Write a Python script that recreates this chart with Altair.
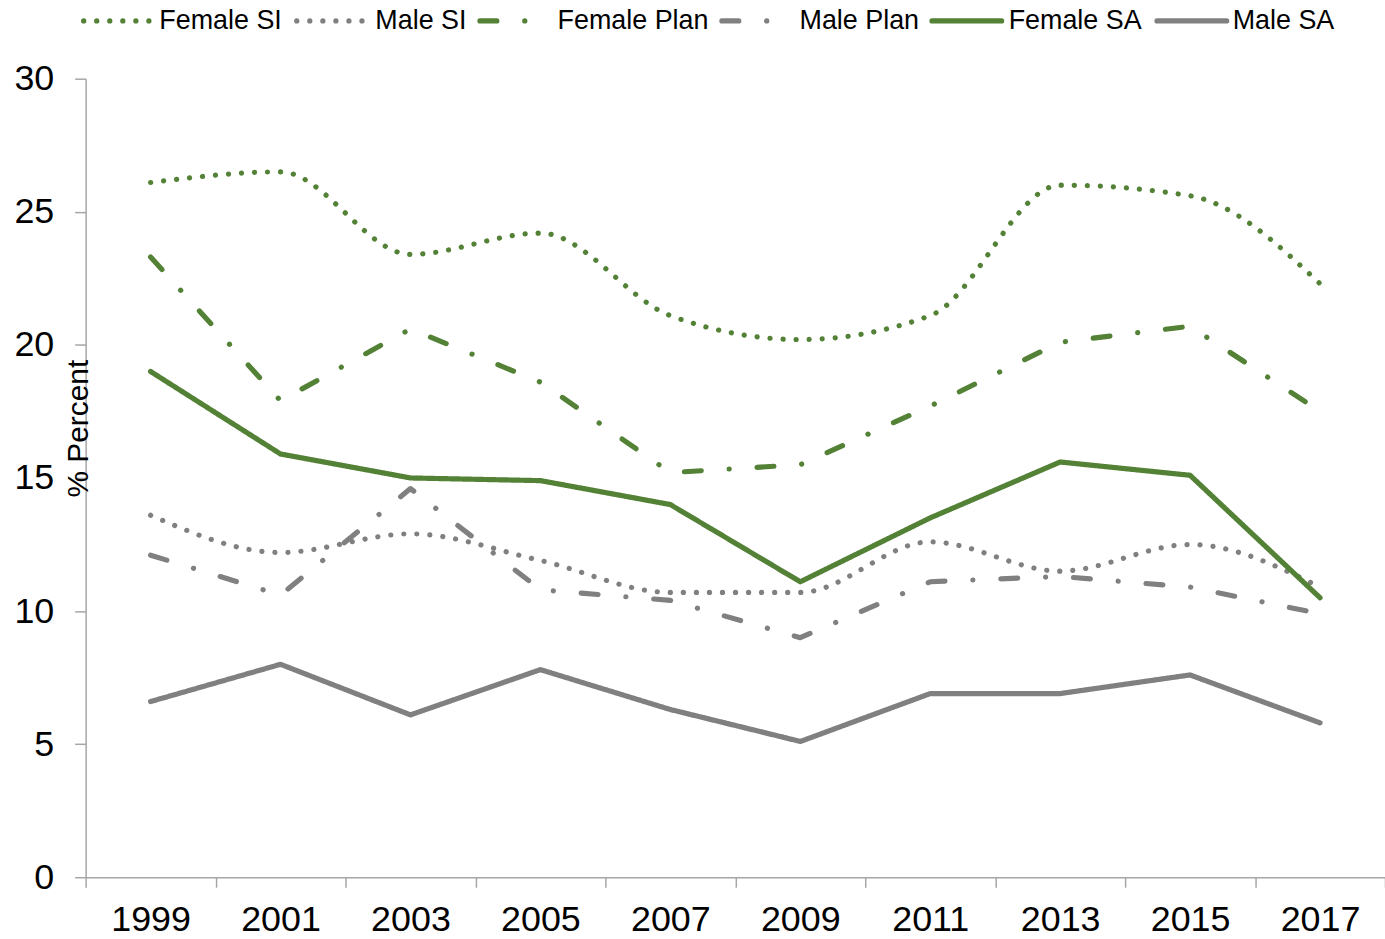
import altair as alt
import pandas as pd

# Survey years and the six series (percent of students)
years = ["1999", "2001", "2003", "2005", "2007", "2009", "2011", "2013", "2015", "2017"]
female_si = [26.1, 26.5, 23.4, 24.2, 21.1, 20.2, 21.1, 26.0, 25.6, 22.3]
male_si = [13.6, 12.2, 12.9, 11.9, 10.7, 10.7, 12.6, 11.5, 12.5, 10.9]
female_plan = [23.3, 17.9, 20.6, 18.6, 15.2, 15.5, 17.7, 20.1, 20.7, 17.5]
male_plan = [12.1, 10.6, 14.6, 10.8, 10.4, 9.0, 11.1, 11.3, 10.9, 9.9]
female_sa = [19.0, 15.9, 15.0, 14.9, 14.0, 11.1, 13.5, 15.6, 15.1, 10.5]
male_sa = [6.6, 8.0, 6.1, 7.8, 6.3, 5.1, 6.9, 6.9, 7.6, 5.8]

series_names = ["Female SI", "Male SI", "Female Plan", "Male Plan", "Female SA", "Male SA"]
series_values = [female_si, male_si, female_plan, male_plan, female_sa, male_sa]

GREEN = "#538135"
GRAY = "#808080"
AXIS_GRAY = "#a6a6a6"
series_colors = [GREEN, GRAY, GREEN, GRAY, GREEN, GRAY]
DOT = [0.1, 13]
DASH_DOT = [17, 28, 0.1, 28]
SOLID = [1, 0]
series_dashes = [DOT, DOT, DASH_DOT, DASH_DOT, SOLID, SOLID]
series_widths = [5.2, 5.2, 4.5, 4.5, 4.5, 4.5]

# Legend layout along the top row (pixels from the plot's left edge):
# where each key line starts and where its label starts
legend_key_start = [-2, 212, 396, 639, 850, 1076]
legend_label_start = [74, 291, 474, 717, 927, 1152]
LEGEND_KEY_LEN = 70
LEGEND_ROW_Y = -58

FONT = "Liberation Sans"

rows = []
for name, vals in zip(series_names, series_values):
    for yr, v in zip(years, vals):
        rows.append({"year": yr, "series": name, "value": v})
df = pd.DataFrame(rows)

legend_df = pd.DataFrame({
    "series": series_names,
    "kx": legend_key_start,
    "kx2": [k + LEGEND_KEY_LEN for k in legend_key_start],
    "lx": legend_label_start,
    "ly": [LEGEND_ROW_Y] * len(series_names),
})

color_scale = alt.Scale(domain=series_names, range=series_colors)
dash_scale = alt.Scale(domain=series_names, range=series_dashes)
width_scale = alt.Scale(domain=series_names, range=series_widths)

x_enc = alt.X(
    "year:O",
    sort=years,
    scale=alt.Scale(type="band", paddingInner=0, paddingOuter=0),
    axis=alt.Axis(
        title=None,
        labelAngle=0,
        tickBand="extent",
        labelFontSize=36,
        labelColor="black",
        labelFont=FONT,
        labelPadding=16,
        tickSize=10,
        tickColor=AXIS_GRAY,
        domainColor=AXIS_GRAY,
        tickWidth=1.5,
        domainWidth=1.5,
        grid=False,
    ),
)
y_enc = alt.Y(
    "value:Q",
    scale=alt.Scale(domain=[0, 30], nice=False),
    axis=alt.Axis(
        title="% Percent",
        values=[0, 5, 10, 15, 20, 25, 30],
        labelFontSize=36,
        labelColor="black",
        labelFont=FONT,
        labelPadding=21,
        tickSize=11,
        tickColor=AXIS_GRAY,
        domainColor=AXIS_GRAY,
        tickWidth=1.5,
        domainWidth=1.5,
        grid=False,
        titleFont=FONT,
        titleFontSize=30,
        titleFontWeight="normal",
        titleColor="black",
        titleAngle=270,
        titleX=2,
        titleY=351,
        titleAlign="center",
        titleBaseline="alphabetic",
    ),
)

base = alt.Chart(df).encode(
    x=x_enc,
    y=y_enc,
    color=alt.Color("series:N", scale=color_scale, legend=None),
    strokeDash=alt.StrokeDash("series:N", scale=dash_scale, legend=None),
    strokeWidth=alt.StrokeWidth("series:N", scale=width_scale, legend=None),
)

# Ideation lines are drawn smoothed; plan and attempt lines are straight segments
smooth = base.transform_filter(
    alt.FieldOneOfPredicate(field="series", oneOf=["Female SI", "Male SI"])
).mark_line(strokeCap="round", interpolate="monotone")

straight = base.transform_filter(
    alt.FieldOneOfPredicate(field="series", oneOf=["Female Plan", "Male Plan", "Female SA", "Male SA"])
).mark_line(strokeCap="round", strokeJoin="round")

lines = alt.layer(smooth, straight)

# Key row across the top: a short sample of each line style followed by its name
legend_base = alt.Chart(legend_df)
legend_keys = legend_base.mark_rule(strokeCap="round").encode(
    x=alt.X("kx:Q", scale=None, axis=None),
    x2="kx2:Q",
    y=alt.Y("ly:Q", scale=None, axis=None),
    color=alt.Color("series:N", scale=color_scale, legend=None),
    strokeDash=alt.StrokeDash("series:N", scale=dash_scale, legend=None),
    strokeWidth=alt.StrokeWidth("series:N", scale=width_scale, legend=None),
)
legend_labels = legend_base.mark_text(
    align="left", baseline="middle", font=FONT, fontSize=27, color="black"
).encode(
    x=alt.X("lx:Q", scale=None, axis=None),
    y=alt.Y("ly:Q", scale=None, axis=None),
    text="series:N",
)
key_row = alt.layer(legend_keys, legend_labels)

chart = (
    alt.layer(lines, key_row)
    .resolve_scale(x="independent", y="independent")
    .properties(
        width=1305,
        height=802,
        padding={"left": 86, "top": 77, "right": 0, "bottom": 60},
        autosize=alt.AutoSizeParams(type="none"),
        background="white",
    )
    .configure_view(stroke=None)
)

chart.save("out.html", embed_options={"renderer": "svg", "actions": False})
